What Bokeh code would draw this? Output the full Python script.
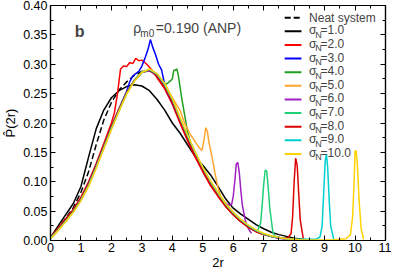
from bokeh.plotting import figure
from bokeh.models import Range1d, FixedTicker, LinearAxis, Label, PrintfTickFormatter, CustomJSTickFormatter
from bokeh.embed import file_html
from bokeh.resources import INLINE

FONT = "Liberation Sans"

# ---------------- data ----------------
r_base = [0.0, 0.25, 0.5, 0.75, 1.0, 1.25, 1.5, 1.75, 2.0, 2.25, 2.5, 2.75, 3.0, 3.25,
          3.5, 3.75, 4.0, 4.25, 4.5, 4.75, 5.0, 5.25, 5.5, 5.75, 6.0, 6.25, 6.5, 6.75,
          7.0, 7.25, 7.5, 7.75, 8.0, 8.25, 8.5]

p_neat = [0.005, 0.021, 0.038, 0.056, 0.082, 0.117, 0.163, 0.205, 0.235, 0.256, 0.270, 0.281,
          0.288, 0.289, 0.281, 0.263, 0.238, 0.206, 0.176, 0.148, 0.122, 0.099, 0.079, 0.061,
          0.046, 0.034, 0.024, 0.016, 0.011, 0.007, 0.005, 0.003, 0.002, 0.001, 0.001]

p_s1 = [0.005, 0.025, 0.044, 0.063, 0.092, 0.142, 0.190, 0.222, 0.243, 0.255, 0.262, 0.265,
        0.263, 0.255, 0.240, 0.222, 0.200, 0.183, 0.163, 0.143, 0.128, 0.112, 0.092, 0.071,
        0.055, 0.045, 0.036, 0.027, 0.020, 0.014, 0.010, 0.007, 0.004, 0.002, 0.001]

r_s2 = r_base[:9] + [2.1, 2.2, 2.3, 2.4, 2.5, 2.6, 2.7, 2.8, 2.9, 3.0, 3.1, 3.2, 3.3, 3.4] + r_base[14:]
p_s2 = [0.005, 0.021, 0.037, 0.053, 0.074, 0.100, 0.131, 0.165, 0.200,
        0.218, 0.250, 0.292, 0.297, 0.296, 0.303, 0.301, 0.310, 0.306, 0.307, 0.303, 0.298, 0.292, 0.285,
        0.277, 0.258, 0.232, 0.200, 0.170, 0.142, 0.117, 0.094, 0.075, 0.058, 0.044, 0.032, 0.023,
        0.015, 0.010, 0.007, 0.004, 0.003, 0.002, 0.001, 0.001]

r_s3 = r_base[:11] + [2.6, 2.7, 2.8, 2.9, 3.0, 3.1, 3.2, 3.28, 3.35, 3.45, 3.55, 3.65, 3.75, 3.85, 3.95] + r_base[17:]
p_s3 = [0.004, 0.019, 0.035, 0.051, 0.071, 0.097, 0.128, 0.161, 0.194, 0.224, 0.254,
        0.270, 0.280, 0.284, 0.288, 0.297, 0.310, 0.325, 0.342, 0.330, 0.316, 0.300, 0.290, 0.265, 0.250, 0.240,
        0.205, 0.174, 0.146, 0.120, 0.097, 0.078, 0.060, 0.045, 0.033, 0.023, 0.016, 0.011,
        0.007, 0.004, 0.003, 0.002, 0.001, 0.001]

r_s4 = r_base[:15] + [3.6, 3.7, 3.8, 3.9, 4.0, 4.05, 4.1, 4.15, 4.2, 4.3, 4.4, 4.5, 4.6] + r_base[19:]
p_s4 = [0.004, 0.018, 0.034, 0.050, 0.070, 0.095, 0.126, 0.159, 0.192, 0.222, 0.251, 0.272, 0.287, 0.291, 0.283,
        0.276, 0.270, 0.266, 0.270, 0.275, 0.290, 0.290, 0.292, 0.280, 0.245, 0.215, 0.185, 0.165,
        0.148, 0.122, 0.099, 0.079, 0.061, 0.046, 0.034, 0.024, 0.016, 0.011, 0.007, 0.005,
        0.003, 0.002, 0.001, 0.001]

r_s5 = r_base[:17] + [4.25, 4.4, 4.5, 4.6, 4.7, 4.8, 4.9, 4.97, 5.03, 5.1, 5.15, 5.2, 5.3, 5.4, 5.5, 5.6] + r_base[23:]
p_s5 = [0.003, 0.017, 0.033, 0.049, 0.068, 0.093, 0.124, 0.157, 0.190, 0.221, 0.250, 0.272, 0.287, 0.290, 0.283,
        0.267, 0.243,
        0.222, 0.200, 0.190, 0.180, 0.172, 0.164, 0.157, 0.153, 0.168, 0.192, 0.186, 0.168, 0.143, 0.115, 0.090, 0.074,
        0.064, 0.048, 0.035, 0.025, 0.017, 0.011, 0.007, 0.005, 0.003, 0.002, 0.001, 0.001]

r_s6 = r_base[:23] + [5.6, 5.7, 5.8, 5.9, 5.95, 6.0, 6.05, 6.1, 6.15, 6.2, 6.25, 6.3, 6.4, 6.5, 6.6]
p_s6 = [0.004, 0.018, 0.034, 0.050, 0.070, 0.095, 0.126, 0.159, 0.192, 0.222, 0.251, 0.272, 0.286, 0.289,
        0.280, 0.262, 0.237, 0.205, 0.175, 0.147, 0.121, 0.098, 0.078,
        0.072, 0.066, 0.062, 0.060, 0.062, 0.075, 0.100, 0.130, 0.133, 0.115, 0.085, 0.060, 0.033, 0.020, 0.012]

r_s7 = r_base[:27] + [6.6, 6.7, 6.8, 6.9, 6.95, 7.0, 7.05, 7.1, 7.15, 7.2, 7.3, 7.4]
p_s7 = [0.004, 0.019, 0.035, 0.051, 0.071, 0.096, 0.127, 0.160, 0.193, 0.223, 0.252, 0.273, 0.287, 0.290,
        0.282, 0.264, 0.239, 0.207, 0.177, 0.149, 0.123, 0.100, 0.080, 0.062, 0.047, 0.035, 0.025,
        0.020, 0.017, 0.016, 0.030, 0.060, 0.095, 0.120, 0.118, 0.090, 0.055, 0.015, 0.004]

r_s8 = r_base[:31] + [7.6, 7.7, 7.8, 7.9, 7.95, 8.0, 8.05, 8.1, 8.15, 8.2, 8.3]
p_s8 = [0.005, 0.020, 0.036, 0.052, 0.072, 0.097, 0.128, 0.161, 0.194, 0.224, 0.252, 0.272, 0.286, 0.290,
        0.280, 0.261, 0.235, 0.203, 0.172, 0.144, 0.118, 0.095, 0.076, 0.058, 0.044, 0.032, 0.022,
        0.015, 0.010, 0.007, 0.005,
        0.004, 0.004, 0.005, 0.012, 0.040, 0.100, 0.140, 0.128, 0.080, 0.035, 0.003]

r_s9 = r_base[:33] + [8.25, 8.5, 8.7, 8.85, 8.92, 8.97, 9.02, 9.06, 9.1, 9.15, 9.2, 9.3]
p_s9 = [0.004, 0.018, 0.033, 0.049, 0.069, 0.094, 0.125, 0.158, 0.191, 0.221, 0.250, 0.271, 0.286, 0.291,
        0.283, 0.265, 0.240, 0.208, 0.178, 0.150, 0.124, 0.101, 0.081, 0.062, 0.047, 0.035, 0.025,
        0.017, 0.011, 0.007, 0.005, 0.003, 0.002,
        0.002, 0.002, 0.002, 0.006, 0.025, 0.080, 0.135, 0.147, 0.125, 0.070, 0.025, 0.002]

r_s10 = r_base + [8.75, 9.0, 9.25, 9.5, 9.7, 9.85, 9.92, 9.97, 10.0, 10.04, 10.08, 10.13, 10.2, 10.28]
p_s10 = [0.003, 0.017, 0.032, 0.048, 0.068, 0.092, 0.123, 0.156, 0.189, 0.220, 0.249, 0.271, 0.286, 0.292,
         0.284, 0.267, 0.242, 0.210, 0.180, 0.151, 0.125, 0.102, 0.082, 0.063, 0.048, 0.036, 0.026,
         0.018, 0.012, 0.008, 0.005, 0.003, 0.002, 0.001, 0.001,
         0.001, 0.001, 0.001, 0.002, 0.003, 0.010, 0.040, 0.100, 0.153, 0.152, 0.125, 0.070, 0.020, 0.002]

sigma_labels = ["1.0", "2.0", "3.0", "4.0", "5.0", "6.0", "7.0", "8.0", "9.0", "10.0"]
sigma_colors = ["#000000", "#ff0000", "#0000ff", "#1fa01f", "#ffa530", "#a020c0",
                "#20d078", "#dd0000", "#00d0d0", "#ffd200"]
sigma_x = [r_base, r_s2, r_s3, r_s4, r_s5, r_s6, r_s7, r_s8, r_s9, r_s10]
sigma_y = [p_s1, p_s2, p_s3, p_s4, p_s5, p_s6, p_s7, p_s8, p_s9, p_s10]

x_ticks = list(range(0, 12))
y_ticks = [0.0, 0.05, 0.10, 0.15, 0.20, 0.25, 0.30, 0.35, 0.40]

# ---------------- figure ----------------
W, H = 391, 272
BL, BR, BT, BB = 42, 6, 5, 29
p = figure(width=W, height=H, output_backend="svg", toolbar_location=None,
           x_range=Range1d(0, 11), y_range=Range1d(0, 0.4),
           min_border_left=BL, min_border_right=BR, min_border_top=BT, min_border_bottom=BB)
p.grid.visible = False
p.outline_line_color = "black"
p.outline_line_width = 1.2
p.background_fill_color = "white"
p.border_fill_color = "white"

xt = FixedTicker(ticks=x_ticks, minor_ticks=[i * 0.5 for i in range(0, 23)])
yt = FixedTicker(ticks=y_ticks, minor_ticks=[i * 0.025 for i in range(0, 17)])

def style_axis(ax, labels=True):
    ax.axis_line_color = "black"
    ax.axis_line_width = 1.2
    ax.major_tick_in = 5
    ax.major_tick_out = 0
    ax.minor_tick_in = 3
    ax.minor_tick_out = 0
    ax.major_tick_line_color = "black"
    ax.minor_tick_line_color = "black"
    ax.major_label_text_font = FONT
    ax.major_label_text_font_size = "12.5px"
    ax.major_label_text_color = "black"
    ax.axis_label_text_font = FONT
    ax.axis_label_text_font_size = "13px"
    ax.axis_label_text_font_style = "normal"
    ax.axis_label_text_color = "black"
    if not labels:
        ax.formatter = CustomJSTickFormatter(code="return ''")
        ax.major_label_standoff = 0

xa = p.xaxis[0]
xa.ticker = xt
style_axis(xa)
xa.axis_label = "2r"
xa.major_label_standoff = 2
xa.axis_label_standoff = 0

ya = p.yaxis[0]
ya.ticker = yt
style_axis(ya)
ya.formatter = PrintfTickFormatter(format="%.2f")
ya.axis_label = "P\u0302(2r)"
ya.major_label_standoff = 3
ya.axis_label_standoff = 2

ra = LinearAxis(ticker=yt)
style_axis(ra, labels=False)
p.add_layout(ra, "right")
ta = LinearAxis(ticker=xt)
style_axis(ta, labels=False)
p.add_layout(ta, "above")

# ---------------- curves ----------------
p.line(r_base, p_neat, line_color="black", line_width=1.5, line_dash="6 3")
for xs, ys, c in zip(sigma_x, sigma_y, sigma_colors):
    p.line(xs, ys, line_color=c, line_width=1.5)

# ---------------- legend and texts ----------------
ppx = 11 / (W - BL - BR)          # data units per pixel (x)
ppy = 0.4 / (H - BT - BB)         # data units per pixel (y)

leg_y0 = 0.4 - 12.3 * ppy
leg_dy = 13.8 * ppy
lx0, lx1 = 7.69, 8.24
tx = 8.49

p.line([lx0, lx1], [leg_y0, leg_y0], line_color="black", line_width=2, line_dash="6 3")
p.add_layout(Label(x=tx, y=leg_y0, text="Neat system", text_font=FONT, text_font_size="12px",
                   text_baseline="middle", text_align="left"))
for i, (lab, c) in enumerate(zip(sigma_labels, sigma_colors)):
    yy = leg_y0 - (i + 1) * leg_dy
    p.line([lx0, lx1], [yy, yy], line_color=c, line_width=2)
    p.add_layout(Label(x=tx, y=yy + 1 * ppy, text="\u03c3", text_font=FONT, text_font_size="12px",
                       text_baseline="middle", text_align="left"))
    p.add_layout(Label(x=tx + 6.3 * ppx, y=yy - 3.5 * ppy, text="N", text_font=FONT, text_font_size="9px",
                       text_baseline="middle", text_align="left"))
    p.add_layout(Label(x=tx + 11.8 * ppx, y=yy + 1 * ppy, text="=" + lab, text_font=FONT,
                       text_font_size="12px", text_baseline="middle", text_align="left"))

p.add_layout(Label(x=0.8, y=0.4 - 26 * ppy, text="b", text_font=FONT, text_font_size="16px",
                   text_font_style="bold", text_baseline="middle", text_align="left"))
p.add_layout(Label(x=2.72, y=0.4 - 23 * ppy, text="\u03c1", text_font=FONT, text_font_size="14px",
                   text_baseline="middle", text_align="left"))
p.add_layout(Label(x=2.95, y=0.4 - 28 * ppy, text="m0", text_font=FONT, text_font_size="10px",
                   text_baseline="middle", text_align="left"))
p.add_layout(Label(x=3.46, y=0.4 - 23 * ppy, text="=0.190 (ANP)", text_font=FONT, text_font_size="14px",
                   text_baseline="middle", text_align="left"))

open("out.html", "w").write(file_html(p, INLINE))
